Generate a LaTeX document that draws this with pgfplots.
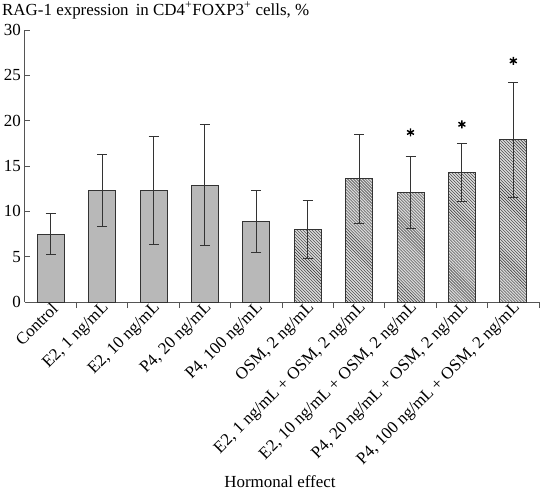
\documentclass[border=0pt]{standalone}
\usepackage{pgfplots}
\pgfplotsset{compat=1.18}
\usetikzlibrary{patterns}
\usepackage{fontspec}
\setmainfont{Liberation Serif}
\definecolor{barfill}{HTML}{B8B8B8}
\definecolor{edge}{HTML}{333333}
\definecolor{axcol}{HTML}{555555}
\begin{document}
\begin{tikzpicture}
\begin{axis}[
  at={(0,0)}, anchor=south west,
  scale only axis, width=514bp, height=272bp,
  xmin=-0.5, xmax=9.5, ymin=0, ymax=30,
  axis x line*=bottom, axis y line*=left,
  axis line style={-, color=axcol, line width=1bp},
  font=\fontsize{17}{20}\selectfont,
  /pgf/number format/assume math mode=true,
  ytick={0,5,...,30},
  tick align=inside,
  major tick length=5bp, minor tick length=6bp,
  tick style={color=axcol, line width=1bp},
  xtick={0,...,9},
  xticklabels={Control, {E2, 1 ng/mL}, {E2, 10 ng/mL}, {P4, 20 ng/mL}, {P4, 100 ng/mL}, {OSM, 2 ng/mL}, {E2, 1 ng/mL + OSM, 2 ng/mL}, {E2, 10 ng/mL + OSM, 2 ng/mL}, {P4, 20 ng/mL + OSM, 2 ng/mL}, {P4, 100 ng/mL + OSM, 2 ng/mL}},
  major x tick style={draw=none},
  minor xtick={0.5,1.5,...,9.5},
  xticklabel style={rotate=45, anchor=east, inner sep=2bp, xshift=6bp, yshift=-2bp, font=\fontsize{17}{20}\selectfont},
  yticklabel style={inner sep=4bp, font=\fontsize{17}{20}\selectfont},
  title={RAG-1 expression\, in CD4\textsuperscript{+}FOXP3\textsuperscript{+} cells, \%},
  title style={at={(axis description cs:0,1)}, anchor=base west, xshift=-23bp, yshift=9bp, inner sep=0pt, font=\fontsize{17}{20}\selectfont},
  xlabel={Hormonal effect},
  xlabel style={at={(axis description cs:0.496,0)}, anchor=base, yshift=-185bp, inner sep=0pt, font=\fontsize{17}{20}\selectfont},
  ybar, bar width=27bp, bar shift=0pt,
  error bars/y dir=both, error bars/y explicit,
  error bars/error bar style={line width=1bp, color=edge},
  error bars/error mark options={rotate=90, mark size=5bp, line width=1bp, color=edge},
]
\addplot[fill=barfill, draw=edge, line width=1bp] table[x=x, y=y, y error=e] {
x y e
0 7.5 2.25
1 12.3 4.0
2 12.3 6.0
3 12.9 6.7
4 8.9 3.4
};
\addplot[fill=gray!30, draw=edge, line width=1bp, postaction={pattern=north west lines, pattern color=black!80}] table[x=x, y=y, y error=e] {
x y e
5 8.05 3.2
6 13.6 4.9
7 12.1 3.95
8 14.3 3.2
9 17.9 6.35
};
\addplot[only marks, mark=asterisk, mark size=4bp, line width=1.4bp, color=black, forget plot, error bars/y dir=none] coordinates {(7,18.7) (8,19.6) (9,26.6)};
\end{axis}
\pgfresetboundingbox
\path[use as bounding box] (-25bp,-190bp) rectangle (515bp,302bp);
\end{tikzpicture}
\end{document}
